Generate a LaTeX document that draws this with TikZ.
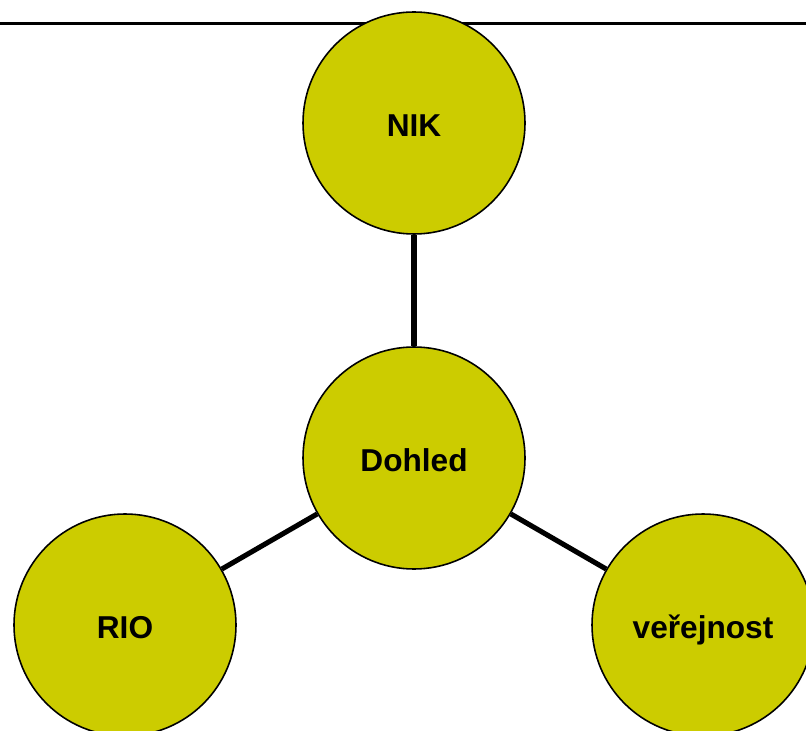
\documentclass[tikz,border=0pt]{standalone}
\usepackage{fontspec}
\setmainfont{Liberation Sans}
\definecolor{olivefill}{RGB}{204,204,0}
\tikzset{
  circnode/.style={circle, draw=black, line width=0.9pt, fill=olivefill,
    minimum size=4.44cm, inner sep=0pt, text height=15pt, text depth=0pt,
    font=\fontsize{18}{21}\selectfont\bfseries},
  link/.style={line width=2.9pt}
}
\begin{document}
\begin{tikzpicture}
  \useasboundingbox (0,0) rectangle (16.12,-14.62);
  %% top rule
  \coordinate (ruleL) at (0,-0.47);
  \coordinate (ruleR) at (16.12,-0.47);
  \draw[line width=1.5pt] (ruleL) -- (ruleR);

  %% circles
  \node[circnode] (nik) at (8.28,-2.46) {NIK};
  \node[circnode] (dohled) at (8.28,-9.16) {Dohled};
  \node[circnode] (rio) at (2.5,-12.5) {RIO};
  \node[circnode] (verejnost) at (14.06,-12.5) {veřejnost};

  %% links
  \draw[link] (nik) -- (dohled);
  \draw[link] (dohled) -- (rio);
  \draw[link] (dohled) -- (verejnost);

\end{tikzpicture}
\end{document}
